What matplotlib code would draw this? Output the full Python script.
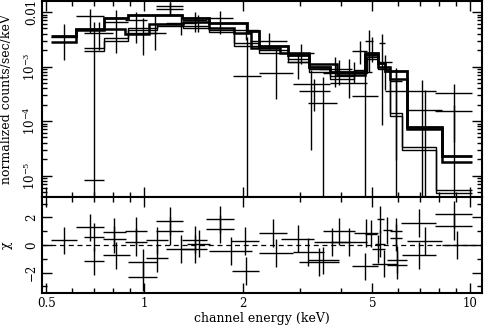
import numpy as np
import matplotlib
matplotlib.use("Agg")
import matplotlib.pyplot as plt
from matplotlib.ticker import FixedLocator, NullFormatter

plt.rcParams['font.family'] = ['DejaVu Serif']
plt.rcParams['mathtext.fontset'] = 'dejavuserif'

# spectrum data points: energy bin lo/hi (keV), flux, flux lower/upper bound
d_elo = [0.518, 0.618, 0.654, 0.654, 0.749, 0.874, 0.893, 1.0, 1.088, 1.088,
         1.168, 1.308, 1.355, 1.549, 1.86, 1.875, 2.13, 2.25, 2.745, 2.745,
         2.85, 2.97, 3.18, 3.44, 3.54, 3.72, 3.85, 4.34, 4.74, 4.8,
         5.24, 5.2, 5.66, 5.46, 4.32, 6.38, 6.38, 7.80, 7.80]
d_ehi = [0.622, 0.754, 0.754, 0.80, 0.893, 1.02, 1.096, 1.168, 1.317, 1.317,
         1.444, 1.56, 1.58, 1.875, 2.25, 2.27, 2.745, 2.85, 3.2, 3.32,
         3.7, 3.7, 3.9, 4.32, 4.41, 4.81, 5.0, 4.81, 5.03, 5.2,
         5.46, 5.75, 6.15, 6.38, 5.2, 7.86, 8.2, 10.13, 10.13]
d_flux = [3.5e-3, 8.4e-3, 8.3e-6, 4.1e-3, 6.6e-3, 7.1e-3, 4.1e-3, 4.1e-3, 1.29e-2, 1.12e-2,
          6.3e-3, 7.1e-3, 6.6e-3, 7.9e-3, 4.7e-3, 6.7e-4, 3.0e-3, 7.6e-4, 1.2e-3, 1.8e-3,
          4.8e-4, 3.6e-4, 2.1e-4, 9.0e-4, 7.5e-4, 5.0e-4, 8.0e-4, 1.9e-3, 2.9e-3, 1.7e-3,
          2.7e-3, 1.2e-3, 5.4e-4, 3.5e-4, 2.9e-4, 3.6e-4, 1.6e-4, 3.3e-4, 1.5e-4]
d_flo = [1.3e-3, 4.1e-3, 1e-7, 2.0e-3, 1.8e-3, 2.7e-3, 1.6e-3, 2.0e-3, 8.8e-3, 8.8e-3,
         3.8e-3, 4.3e-3, 4.3e-3, 4.0e-3, 3.1e-3, 1e-7, 2.0e-3, 2.5e-4, 5.9e-4, 1.1e-3,
         2.9e-5, 1.5e-4, 1e-7, 4.2e-4, 4.6e-4, 2.6e-4, 5.0e-4, 1.1e-3, 7.9e-4, 1.2e-3,
         8.5e-5, 3.7e-4, 1.9e-5, 1e-7, 1e-7, 1e-7, 1e-7, 4.1e-5, 1e-7]
d_fhi = [6.0e-3, 1.13e-2, 6.6e-3, 6.6e-3, 1.09e-2, 1.0e-2, 7.8e-3, 8.8e-3, 1.54e-2, 1.54e-2,
         8.8e-3, 1.0e-2, 9.0e-3, 1.04e-2, 6.3e-3, 3.5e-3, 4.1e-3, 2.3e-3, 1.8e-3, 2.6e-3,
         8.6e-4, 6.0e-4, 6.4e-4, 1.5e-3, 1.3e-3, 1.4e-3, 1.2e-3, 2.9e-3, 4.7e-3, 3.5e-3,
         4.0e-3, 1.6e-3, 8.6e-4, 9.4e-4, 8.6e-4, 5.6e-4, 3.7e-4, 4.8e-4, 2.0e-4]

# folded model curves (step lines)
m1_edges = [0.518, 0.618, 0.749, 0.893, 1.308, 1.582, 2.07, 2.25, 2.75, 3.2, 3.72,
            4.74, 5.2, 5.46, 6.38, 8.2, 10.13]
m1_vals = [3.6e-3, 4.9e-3, 7.9e-3, 8.9e-3, 7.9e-3, 6.3e-3, 4.5e-3, 2.4e-3, 1.6e-3,
           1.0e-3, 7.8e-4, 1.75e-3, 1.15e-3, 8.4e-4, 7.7e-5, 2.3e-5]
m2_edges = [0.518, 0.618, 0.749, 0.874, 1.036, 1.31, 1.58, 1.88, 2.13, 2.6, 3.2,
            3.9, 4.74, 5.2, 5.66, 6.38, 8.2, 10.13]
m2_vals = [2.8e-3, 4.7e-3, 4.9e-3, 4.0e-3, 6.0e-3, 6.5e-3, 5.0e-3, 4.1e-3, 2.2e-3,
           1.8e-3, 1.1e-3, 7.0e-4, 1.6e-3, 1.0e-3, 6.0e-4, 7.0e-5, 1.8e-5]
m3_edges = [0.654, 0.754, 0.893, 1.096, 1.31, 1.58, 1.88, 2.25, 2.75, 3.2, 3.72,
            4.38, 4.81, 5.2, 5.66, 6.15, 7.86, 10.13]
m3_vals = [1.9e-3, 2.9e-3, 4.7e-3, 5.6e-3, 5.2e-3, 4.3e-3, 2.4e-3, 1.8e-3, 1.2e-3,
           8.0e-4, 6.0e-4, 7.5e-4, 1.4e-3, 1.0e-3, 1.4e-4, 3.3e-5, 5.4e-6]
m4_vals = [2.2e-3, 3.3e-3, 5.0e-3, 6.0e-3, 5.6e-3, 4.6e-3, 2.7e-3, 2.0e-3, 1.35e-3,
           9.0e-4, 6.6e-4, 8.5e-4, 1.5e-3, 9.0e-4, 1.25e-4, 3.0e-5, 4.8e-6]

# residuals: energy bin lo/hi (keV) and chi
r_elo = [0.518, 0.617, 0.654, 0.654, 0.745, 0.745, 0.745, 0.874, 0.874, 0.893,
         0.893, 1.012, 1.012, 1.086, 1.086, 1.166, 1.308, 1.355, 1.308, 1.546,
         1.546, 1.845, 1.58, 1.86, 2.25, 2.25, 2.62, 2.85, 3.18, 2.97,
         3.32, 3.54, 3.72, 4.38, 4.32, 4.74, 4.99, 5.17, 5.1, 4.99,
         5.39, 5.53, 5.66, 5.66, 5.53, 6.11, 6.15, 6.38, 7.80, 7.80, 8.2]
r_ehi = [0.622, 0.754, 0.754, 0.754, 0.879, 0.879, 0.90, 1.02, 1.02, 1.096,
         1.096, 1.179, 1.179, 1.317, 1.317, 1.44, 1.56, 1.59, 1.56, 1.88,
         1.88, 2.25, 2.14, 2.25, 2.73, 2.85, 3.32, 3.56, 3.94, 3.94,
         4.26, 4.41, 4.81, 5.20, 5.20, 5.17, 5.46, 5.42, 5.46, 5.94,
         5.74, 6.38, 6.15, 6.15, 6.38, 7.86, 7.86, 8.2, 10.13, 10.13, 10.13]
r_chi = [0.34, 1.28, 0.58, -1.18, 0.94, 0.41, -0.75, 1.01, 0.22, -1.26,
         -2.32, 0.34, -0.94, 1.74, 1.01, -0.31, 0.39, 0.1, -0.31, 1.86,
         1.14, 0.29, -0.43, -1.88, 0.87, -0.58, 0.46, -0.51, -1.11, -1.23,
         0.22, 0.99, 0.22, 0.87, -1.55, 0.82, -0.27, 1.86, 0.1, -1.35,
         1.06, -1.06, 0.99, 0.53, -1.43, 1.59, -0.75, 0.27, 2.22, 1.35, 0.02]

fig = plt.figure(figsize=(4.84, 3.26), dpi=100)
ax1 = fig.add_axes([0.0868, 0.3957, 0.909, 0.601])
ax2 = fig.add_axes([0.0868, 0.1012, 0.909, 0.2945])

# top panel
elo, ehi = np.array(d_elo), np.array(d_ehi)
ec = np.sqrt(elo * ehi)
f, flo, fhi = np.array(d_flux), np.array(d_flo), np.array(d_fhi)
ax1.errorbar(ec, f, xerr=[ec - elo, ehi - ec], yerr=[f - flo, fhi - f],
             fmt='none', ecolor='k', elinewidth=1.0, capsize=0)
ax1.stairs(m1_vals, m1_edges, baseline=None, color='k', lw=2.0)
ax1.stairs(m2_vals, m2_edges, baseline=None, color='k', lw=1.8)
ax1.stairs(m3_vals, m3_edges, baseline=None, color='k', lw=1.0)
ax1.stairs(m4_vals, m3_edges, baseline=None, color='k', lw=1.0)

# bottom panel
relo, rehi = np.array(r_elo), np.array(r_ehi)
rc = np.sqrt(relo * rehi)
ax2.errorbar(rc, r_chi, xerr=[rc - relo, rehi - rc], yerr=1,
             fmt='none', ecolor='k', elinewidth=1.0, capsize=0)
ax2.axhline(0, color='k', lw=0.9, ls=(0, (4, 3)))

for ax in (ax1, ax2):
    ax.set_xscale('log')
    ax.set_xlim(0.485, 10.85)
    ax.xaxis.set_major_locator(FixedLocator([0.5, 1, 2, 5, 10]))
    ax.xaxis.set_minor_locator(FixedLocator([0.6, 0.7, 0.8, 0.9, 3, 4, 6, 7, 8, 9]))
    ax.xaxis.set_minor_formatter(NullFormatter())
    ax.tick_params(which='both', direction='in', top=True, right=True,
                   width=1, labelsize=8.5, pad=3)
    ax.tick_params(which='major', length=7)
    ax.tick_params(which='minor', length=3.5)
    for s in ax.spines.values():
        s.set_linewidth(1.5)

ax1.set_yscale('log')
ax1.set_ylim(4.04e-6, 0.0159)
ax1.set_yticks([1e-5, 1e-4, 1e-3, 1e-2])
ax1.set_yticklabels(['$10^{-5}$', '$10^{-4}$', '$10^{-3}$', '0.01'],
                    rotation=90, va='center')
ax1.yaxis.set_minor_locator(FixedLocator(
    [k * 10.0 ** p for p in range(-6, -1) for k in range(2, 10)]))
ax1.yaxis.set_minor_formatter(NullFormatter())
ax1.tick_params(labelbottom=False)
ax1.set_ylabel('normalized counts/sec/keV', fontsize=9)
ax1.yaxis.set_label_coords(-0.066, 0.5)

ax2.set_ylim(-3.48, 3.48)
ax2.set_yticks([-2, 0, 2])
ax2.set_yticklabels(['\u22122', '0', '2'], rotation=90, va='center')
ax2.yaxis.set_minor_locator(FixedLocator([-3, -1, 1, 3]))
ax2.set_xticklabels(['0.5', '1', '2', '5', '10'])
ax2.set_ylabel('\u03c7', fontsize=9)
ax2.yaxis.set_label_coords(-0.066, 0.5)
ax2.set_xlabel('channel energy (keV)', fontsize=9, labelpad=1)

fig.savefig('out.png', dpi=100)
